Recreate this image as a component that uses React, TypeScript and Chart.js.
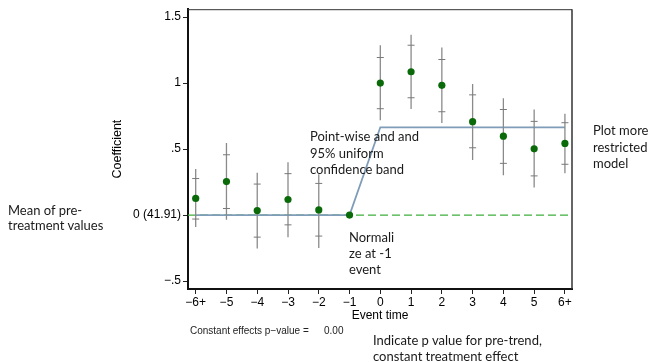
import React, { useEffect, useRef } from "react";
import { Chart, registerables } from "chart.js";

Chart.register(...registerables);

// ---- data ----
const eventTimes = [-6, -5, -4, -3, -2, -1, 0, 1, 2, 3, 4, 5, 6];
const xTickLabels = ["\u22126+", "\u22125", "\u22124", "\u22123", "\u22122", "\u22121", "0", "1", "2", "3", "4", "5", "6+"];
const coefficients = [0.126, 0.254, 0.034, 0.118, 0.039, 0, 1.0, 1.086, 0.983, 0.708, 0.598, 0.502, 0.543];
const pointwiseLow = [-0.03, 0.05, -0.167, -0.074, -0.159, null, 0.806, 0.889, 0.783, 0.51, 0.392, 0.297, 0.385];
const pointwiseHigh = [0.277, 0.457, 0.235, 0.314, 0.24, null, 1.194, 1.287, 1.179, 0.911, 0.8, 0.71, 0.7];
const uniformLow = [-0.09, -0.036, -0.254, -0.167, -0.25, null, 0.718, 0.803, 0.698, 0.417, 0.302, 0.209, 0.317];
const uniformHigh = [0.35, 0.547, 0.32, 0.4, 0.31, null, 1.287, 1.367, 1.27, 0.994, 0.886, 0.8, 0.768];
const restrictedX = [-6, -1, 0, 6];
const restrictedY = [0, 0, 0.665, 0.665];
const yTickValues = [-0.5, 0, 0.5, 1, 1.5];
const yTickLabels = ["\u2212.5", "0 (41.91)", ".5", "1", "1.5"];
const xMin = -6.25;
const xMax = 6.23;
const yMin = -0.56;
const yMax = 1.56;

const frameBorders = {
  id: "frameBorders",
  afterDraw(chart: any) {
    const { ctx, chartArea } = chart;
    ctx.save();
    ctx.strokeStyle = "#333";
    ctx.lineWidth = 1;
    ctx.beginPath();
    ctx.moveTo(chartArea.left, chartArea.top + 0.5);
    ctx.lineTo(chartArea.right, chartArea.top + 0.5);
    ctx.stroke();
    ctx.lineWidth = 1.5;
    ctx.beginPath();
    ctx.moveTo(chartArea.right, chartArea.top);
    ctx.lineTo(chartArea.right, chartArea.bottom);
    ctx.stroke();
    ctx.restore();
  },
};

const tickFont = { family: "'Liberation Sans', Arial, sans-serif", size: 12 };
const titleFont = { family: "'Liberation Sans', Arial, sans-serif", size: 12.5 };

export default function App() {
  const ref = useRef<HTMLCanvasElement>(null);

  useEffect(() => {
    if (!ref.current) return;
    const barData: any[] = [];
    const capData: any[] = [];
    eventTimes.forEach((x, i) => {
      if (uniformLow[i] !== null && uniformHigh[i] !== null) {
        barData.push({ x, y: uniformLow[i] }, { x, y: uniformHigh[i] }, { x, y: null });
      }
      if (pointwiseLow[i] !== null) capData.push({ x, y: pointwiseLow[i] });
      if (pointwiseHigh[i] !== null) capData.push({ x, y: pointwiseHigh[i] });
    });
    const chart = new Chart(ref.current, {
      type: "line",
      data: {
        datasets: [
          {
            label: "Coefficient",
            data: eventTimes.map((x, i) => ({ x, y: coefficients[i] })),
            showLine: false,
            pointRadius: 3.6,
            pointBackgroundColor: "#0a6a0a",
            pointBorderColor: "#0a6a0a",
            pointBorderWidth: 0,
            order: 0,
          },
          {
            label: "Point-wise",
            data: capData,
            showLine: false,
            pointStyle: "line",
            pointRadius: 3.5,
            pointBorderColor: "#7a7a7a",
            pointBorderWidth: 1,
            order: 1,
          },
          {
            label: "Uniform",
            data: barData,
            borderColor: "#8a8a8a",
            borderWidth: 1.3,
            pointRadius: 0,
            spanGaps: false,
            order: 2,
          },
          {
            label: "Restricted",
            data: restrictedX.map((x, i) => ({ x, y: restrictedY[i] })),
            borderColor: "#7f9cb8",
            borderWidth: 1.8,
            pointRadius: 0,
            order: 3,
          },
          {
            label: "Zero",
            data: [{ x: xMin, y: 0 }, { x: xMax, y: 0 }],
            borderColor: "#3fae3f",
            borderWidth: 1.2,
            borderDash: [8, 4],
            pointRadius: 0,
            order: 4,
          },
        ],
      },
      options: {
        animation: false,
        responsive: false,
        layout: { padding: { left: 0, top: 7, right: 78, bottom: 0 } },
        plugins: { legend: { display: false }, tooltip: { enabled: false } },
        scales: {
          x: {
            type: "linear",
            min: xMin,
            max: xMax,
            afterBuildTicks: (s: any) => {
              s.ticks = eventTimes.map((v) => ({ value: v }));
            },
            afterFit: (s: any) => {
              s.height = 73;
            },
            ticks: {
              callback: (_v: any, i: number) => xTickLabels[i],
              font: tickFont,
              color: "#000",
              padding: 1,
              maxRotation: 0,
              autoSkip: false,
            },
            grid: { drawOnChartArea: false, tickLength: 5, tickColor: "#222", tickWidth: 1 },
            border: { display: true, color: "#111", width: 2 },
            title: {
              display: true,
              text: "Event time",
              font: tickFont,
              color: "#000",
              padding: { top: 0, bottom: 39 },
            },
          },
          y: {
            type: "linear",
            min: yMin,
            max: yMax,
            afterBuildTicks: (s: any) => {
              s.ticks = yTickValues.map((v) => ({ value: v }));
            },
            afterFit: (s: any) => {
              s.width = 188;
            },
            ticks: {
              callback: (_v: any, i: number) => yTickLabels[i],
              font: tickFont,
              color: "#000",
              padding: 2,
            },
            grid: { drawOnChartArea: false, tickLength: 5, tickColor: "#222", tickWidth: 1 },
            border: { display: true, color: "#111", width: 2 },
            title: {
              display: true,
              text: "Coefficient",
              font: titleFont,
              color: "#000",
              padding: { top: 110, bottom: 0 },
            },
          },
        },
      },
      plugins: [frameBorders],
    } as any);
    return () => chart.destroy();
  }, []);

  const note: React.CSSProperties = {
    position: "absolute",
    fontFamily: "Lato, 'Noto Sans', sans-serif",
    fontSize: 13,
    color: "#1a1a1a",
    whiteSpace: "nowrap",
  };

  const small: React.CSSProperties = {
    position: "absolute",
    top: 324.5,
    fontFamily: "'Liberation Sans', Arial, sans-serif",
    fontSize: 10,
    color: "#222",
    whiteSpace: "nowrap",
  };

  return (
    <div style={{ position: "absolute", left: 0, top: 0, width: 650, height: 362, background: "#fff" }}>
      <canvas ref={ref} width={650} height={362} style={{ position: "absolute", left: 0, top: 0 }} />
      <div style={{ ...note, left: 310, top: 128, lineHeight: "16.5px" }}>
        Point-wise and and<br />95% uniform<br />confidence band
      </div>
      <div style={{ ...note, left: 593, top: 122, lineHeight: "16.7px" }}>
        Plot more<br />restricted<br />model
      </div>
      <div style={{ ...note, left: 8, top: 203, lineHeight: "15.3px" }}>
        Mean of pre-<br />treatment values
      </div>
      <div style={{ ...note, left: 349, top: 228.5, lineHeight: "16.3px" }}>
        Normali<br />ze at -1<br />event
      </div>
      <div style={{ ...note, left: 373, top: 332, lineHeight: "16px" }}>
        Indicate p value for pre-trend,<br />constant treatment effect
      </div>
      <div style={{ ...small, left: 190 }}>
        Constant effects p{"\u2212"}value =
      </div>
      <div style={{ ...small, left: 324 }}>
        0.00
      </div>
    </div>
  );
}
